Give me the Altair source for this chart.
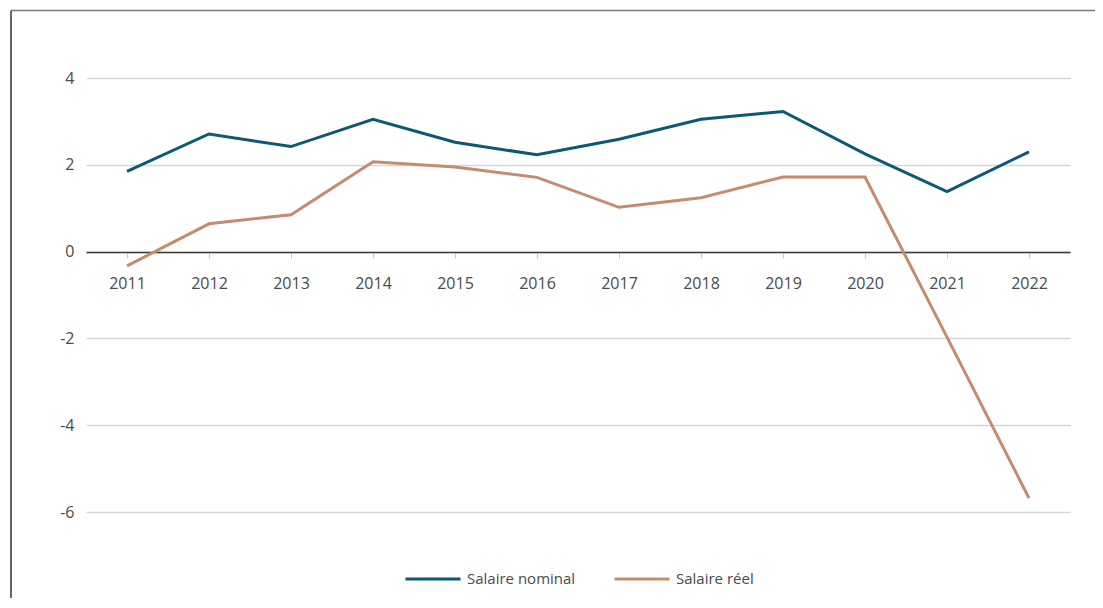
import altair as alt
import pandas as pd

years = ["2011", "2012", "2013", "2014", "2015", "2016", "2017", "2018", "2019", "2020", "2021", "2022"]
nominal = [1.85, 2.71, 2.42, 3.05, 2.52, 2.23, 2.59, 3.05, 3.23, 2.25, 1.38, 2.30]
reel = [-0.33, 0.64, 0.85, 2.07, 1.95, 1.71, 1.02, 1.24, 1.72, 1.72, -1.97, -5.68]
series = ["Salaire nominal", "Salaire réel"]
colors = ["#0d5877", "#c58b6b"]

rows = []
for y, n, r in zip(years, nominal, reel):
    rows.append({"annee": y, "serie": series[0], "valeur": n})
    rows.append({"annee": y, "serie": series[1], "valeur": r})
df = pd.DataFrame(rows)

FONT = "Open Sans"
W, H = 984, 434

lines = alt.Chart(df).mark_line(strokeWidth=3, strokeJoin="miter").encode(
    x=alt.X("annee:O", sort=years, title=None,
            axis=alt.Axis(labelAngle=0, offset=-260, domain=True, domainColor="#3a3a3a",
                          domainWidth=1.5, ticks=True, tickColor="#c8c8c8", tickSize=6,
                          tickWidth=1, labelPadding=17, labelFont=FONT, labelFontSize=16,
                          labelColor="#4a4a4a", grid=False)),
    y=alt.Y("valeur:Q", title=None, scale=alt.Scale(domain=[-6, 4], nice=False, zero=False),
            axis=alt.Axis(values=[-6, -4, -2, 0, 2, 4], ticks=False, domain=False,
                          labelExpr="'' + datum.value",
                          labelPadding=12, labelFont=FONT, labelFontSize=16,
                          labelColor="#4a4a4a", gridColor="#d6d6d6", gridWidth=1.5)),
    color=alt.Color("serie:N", sort=series, title=None,
                    scale=alt.Scale(domain=series, range=colors),
                    legend=alt.Legend(orient="none", legendX=318, legendY=472,
                                      direction="horizontal", symbolType="stroke",
                                      symbolSize=3025, symbolStrokeWidth=3,
                                      labelFont=FONT, labelFontSize=15, labelColor="#4a4a4a",
                                      labelOffset=5, columnPadding=32)),
)

frame_df = pd.DataFrame({"k": [0]})
top_line = alt.Chart(frame_df).mark_rule(color="#7a7a7a", strokeWidth=1.5).encode(
    x=alt.value(-75), x2=alt.value(1040), y=alt.value(-67.5))
left_line = alt.Chart(frame_df).mark_rule(color="#333333", strokeWidth=1.5).encode(
    x=alt.value(-75), y=alt.value(-67.5), y2=alt.value(560))

chart = alt.layer(top_line, left_line, lines).properties(
    width=W, height=H,
    background="white",
    autosize=alt.AutoSizeParams(type="none"),
    padding={"left": 78, "top": 70, "right": 25, "bottom": 86},
).configure_view(stroke=None)

chart.save("out.html", embed_options={"renderer": "svg", "actions": False})
